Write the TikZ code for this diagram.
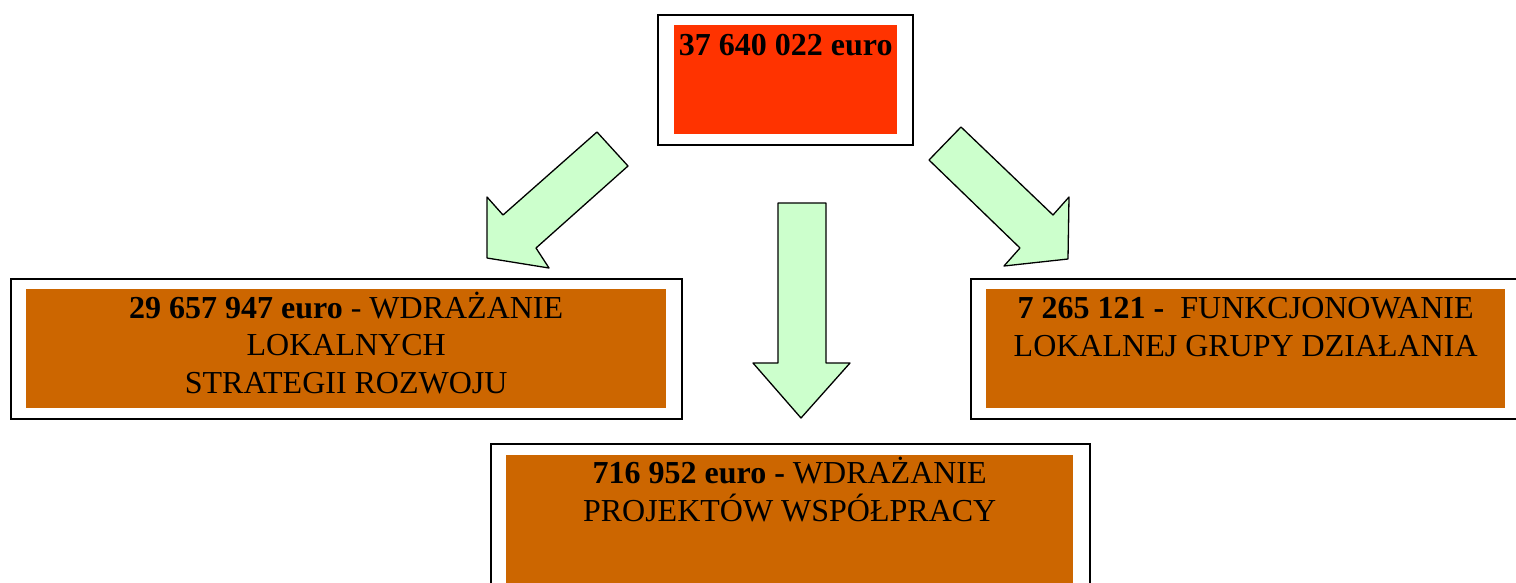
\documentclass[tikz,border=0pt]{standalone}
\usepackage{fontspec}
\setmainfont{Liberation Serif}
\usetikzlibrary{calc}
\definecolor{totalred}{HTML}{FF3300}
\definecolor{measure}{HTML}{CC6600}
\definecolor{flowgreen}{HTML}{CCFFCC}
\tikzset{>=latex}
\tikzset{
frame/.style={draw, line width=2pt, inner sep=0pt, anchor=north west},
panel/.style={fill=#1, inner sep=0pt, anchor=north west},
caption/.style={anchor=base, align=center, inner sep=0pt, font=\fontsize{32}{37.5}\selectfont},
flow/.style={draw, fill=flowgreen, line width=1.3pt, line join=round}
}

\begin{document}
\begin{tikzpicture}[x=1pt, y=-1pt]
\useasboundingbox (0,0) rectangle (1516,582);
\clip (0,0) rectangle (1516,582);
% boxes
\node[frame, minimum width=255pt, minimum height=130pt] (total) at (657,14) {};
\node[panel=totalred, minimum width=223pt, minimum height=109pt] (totalfill) at (674,25) {};
\node[frame, minimum width=671pt, minimum height=140pt] (lsr) at (10,278) {};
\node[panel=measure, minimum width=640pt, minimum height=119pt] (lsrfill) at (26,289) {};
\node[frame, minimum width=560pt, minimum height=140pt] (lgd) at (970,278) {};
\node[panel=measure, minimum width=519pt, minimum height=119pt] (lgdfill) at (986,289) {};
\node[frame, minimum width=599pt, minimum height=200pt] (coop) at (490,443) {};
\node[panel=measure, minimum width=567pt, minimum height=200pt] (coopfill) at (506,455) {};
% texts (base = last line)
\node[caption] (totaltext) at (totalfill.north |- 0,55) {\textbf{37 640 022 euro}};
\node[caption] (lsrtext) at (lsrfill.north |- 0,393) {\textbf{29 657 947 euro} - WDRAŻANIE\\LOKALNYCH\\STRATEGII ROZWOJU};
\node[caption] (lgdtext) at (lgdfill.north |- 0,356) {\textbf{7 265 121 -}\ \ FUNKCJONOWANIE\\LOKALNEJ GRUPY DZIAŁANIA};
\node[caption] (cooptext) at (coopfill.north |- 0,521) {\textbf{716 952 euro -} WDRAŻANIE\\PROJEKTÓW WSPÓŁPRACY};
% arrows
\draw[flow] (597,132) -- (628,166) -- (536,248) -- (549,268) -- (487,258) -- (487,197) -- (503,215) -- cycle;
\draw[flow] (778,203) -- (826,203) -- (826,363) -- (850,363) -- (801,418) -- (753,363) -- (778,363) -- cycle;
\draw[flow] (961,127) -- (929,160) -- (1020,248) -- (1004,266) -- (1068,259) -- (1069,197) -- (1053,215) -- cycle;
\end{tikzpicture}
\end{document}
